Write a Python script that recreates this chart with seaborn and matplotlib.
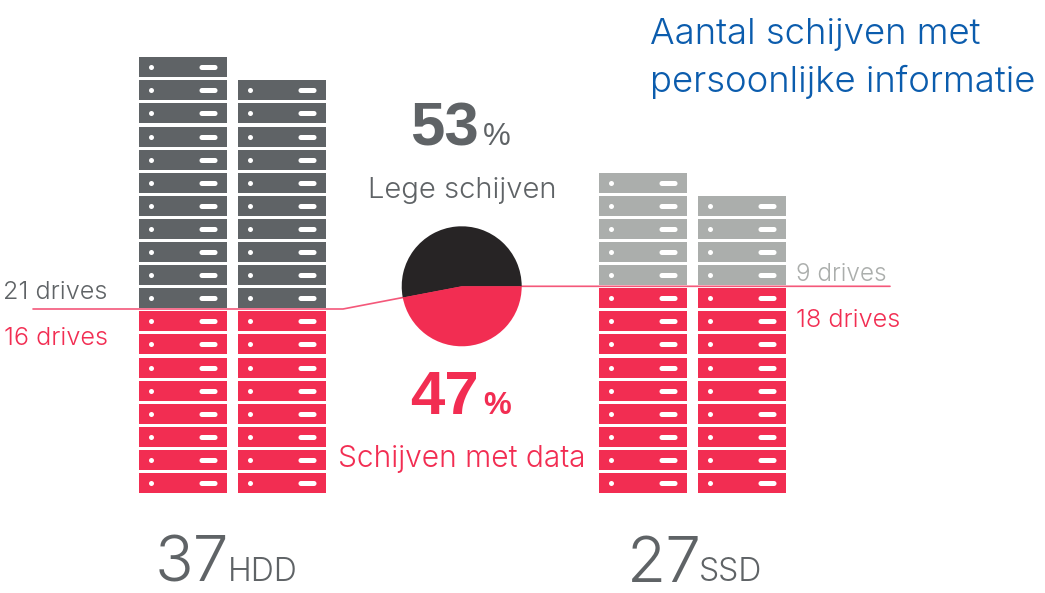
import numpy as np
import pandas as pd
import seaborn as sns
import matplotlib.pyplot as plt
from matplotlib.path import Path

# chart values
group_names = ["HDD", "SSD"]
group_totals = [37, 27]
empty_per_stack = [[11, 10], [5, 4]]
data_per_stack = [[8, 8], [9, 9]]
pie_labels = ["Lege schijven", "Schijven met data"]
pie_shares = [53, 47]
empty_labels = ["21 drives", "9 drives"]
data_labels = ["16 drives", "18 drives"]
title_lines = ["Aantal schijven met", "persoonlijke informatie"]

GREY = "#5f6366"
LIGHT = "#abaeac"
RED = "#f22d52"
DARK = "#272425"
BLUE = "#0b5cad"
LINE = "#f4587a"

sns.set_theme(style="white")
plt.rcParams["font.family"] = ["Inter", "DejaVu Sans"]

W, H = 1045, 593
fig = plt.figure(figsize=(W / 100, H / 100), dpi=100)
ax = fig.add_axes([0, 0, 1, 1])

# layout in pixels
stack_left = [[139, 238], [599, 698]]
plate_w, plate_h, pitch = 88, 20, 23.1
base_y = 483


def box_marker(w, h):
    # path marker keeps the aspect ratio, scaled by its longer side
    return Path([(-w, -h), (w, -h), (w, h), (-w, h), (-w, -h)], closed=True)


def pill_marker(w, h):
    a = np.linspace(-np.pi / 2, np.pi / 2, 12)
    right = np.column_stack([w - h + h * np.cos(a), h * np.sin(a)])
    left = np.column_stack([-(w - h) - h * np.cos(a[::-1]), h * np.sin(a[::-1])])
    pts = np.vstack([right, left, right[:1]])
    return Path(pts, closed=True)


def size_for(px):
    return (px * 0.72) ** 2


# one row per drive
rows = []
for g, name in enumerate(group_names):
    for s in range(2):
        cx = stack_left[g][s] + plate_w / 2
        n_data = data_per_stack[g][s]
        n_empty = empty_per_stack[g][s]
        for r in range(n_data + n_empty):
            kind = "data" if r < n_data else name
            rows.append({"x": cx, "y": base_y - r * pitch, "kind": kind})
drives = pd.DataFrame(rows)

# guide line through the pie
pie_cx, pie_cy, pie_r = 461.7, 286.3, 60
edge = np.deg2rad(pie_shares[0] / 100 * 360)
line_x = [33, 343, pie_cx + pie_r * np.cos(edge), pie_cx, 890]
line_y = [309, 309, pie_cy - pie_r * np.sin(edge), pie_cy, pie_cy]
sns.lineplot(x=line_x, y=line_y, sort=False, estimator=None, color=LINE, lw=1.2, ax=ax)

sns.scatterplot(data=drives, x="x", y="y", hue="kind", palette={"data": RED, "HDD": GREY, "SSD": LIGHT},
                marker=box_marker(plate_w / 2, plate_h / 2), s=size_for(plate_w), linewidth=0, legend=False, ax=ax)
sns.scatterplot(x=drives["x"] - 32.3, y=drives["y"], color="white", marker="o", s=size_for(5), linewidth=0, ax=ax)
sns.scatterplot(x=drives["x"] + 25, y=drives["y"], color="white", marker=pill_marker(9, 2.5), s=size_for(18),
                linewidth=0, ax=ax)

ax.set_xlim(0, W)
ax.set_ylim(H, 0)
ax.axis("off")

# pie
pie_ax = fig.add_axes([(pie_cx - pie_r) / W, 1 - (pie_cy + pie_r) / H, 2 * pie_r / W, 2 * pie_r / H])
pie_ax.pie(pie_shares, colors=[DARK, RED], startangle=0, counterclock=True, radius=1, wedgeprops={"linewidth": 0})
pie_ax.set_xlim(-1, 1)
pie_ax.set_ylim(-1, 1)

light = dict(fontweight=300)
helv = dict(family=["Liberation Sans"])

ax.text(650, 44, title_lines[0], fontsize=26.3, color=BLUE, **light)
ax.text(650, 92, title_lines[1], fontsize=26.3, color=BLUE, **light)

ax.text(410, 145, str(pie_shares[0]), fontsize=44.5, color=GREY, fontweight="bold", **helv)
ax.text(483, 145, "%", fontsize=22.5, color=GREY, **helv)
ax.text(462, 198, pie_labels[0], fontsize=21, color=GREY, ha="center", **light)
ax.text(410, 414, str(pie_shares[1]), fontsize=44.5, color=RED, fontweight="bold", **helv)
ax.text(483, 414, "%", fontsize=22.5, color=RED, fontweight="bold", **helv)
ax.text(462, 467, pie_labels[1], fontsize=21.6, color=RED, ha="center", **light)

ax.text(3, 299, empty_labels[0], fontsize=18.2, color=GREY, **light)
ax.text(4, 345, data_labels[0], fontsize=18.2, color=RED, **light)
ax.text(796, 281, empty_labels[1], fontsize=17.5, color=LIGHT, **light)
ax.text(796, 327, data_labels[1], fontsize=18.2, color=RED, **light)

ax.text(155, 582, str(group_totals[0]), fontsize=46, color=GREY, **light)
ax.text(228, 581, group_names[0], fontsize=23, color=GREY, **light)
ax.text(627, 582, str(group_totals[1]), fontsize=46, color=GREY, **light)
ax.text(699, 581, group_names[1], fontsize=23, color=GREY, **light)

fig.savefig("out.png", dpi=100)
